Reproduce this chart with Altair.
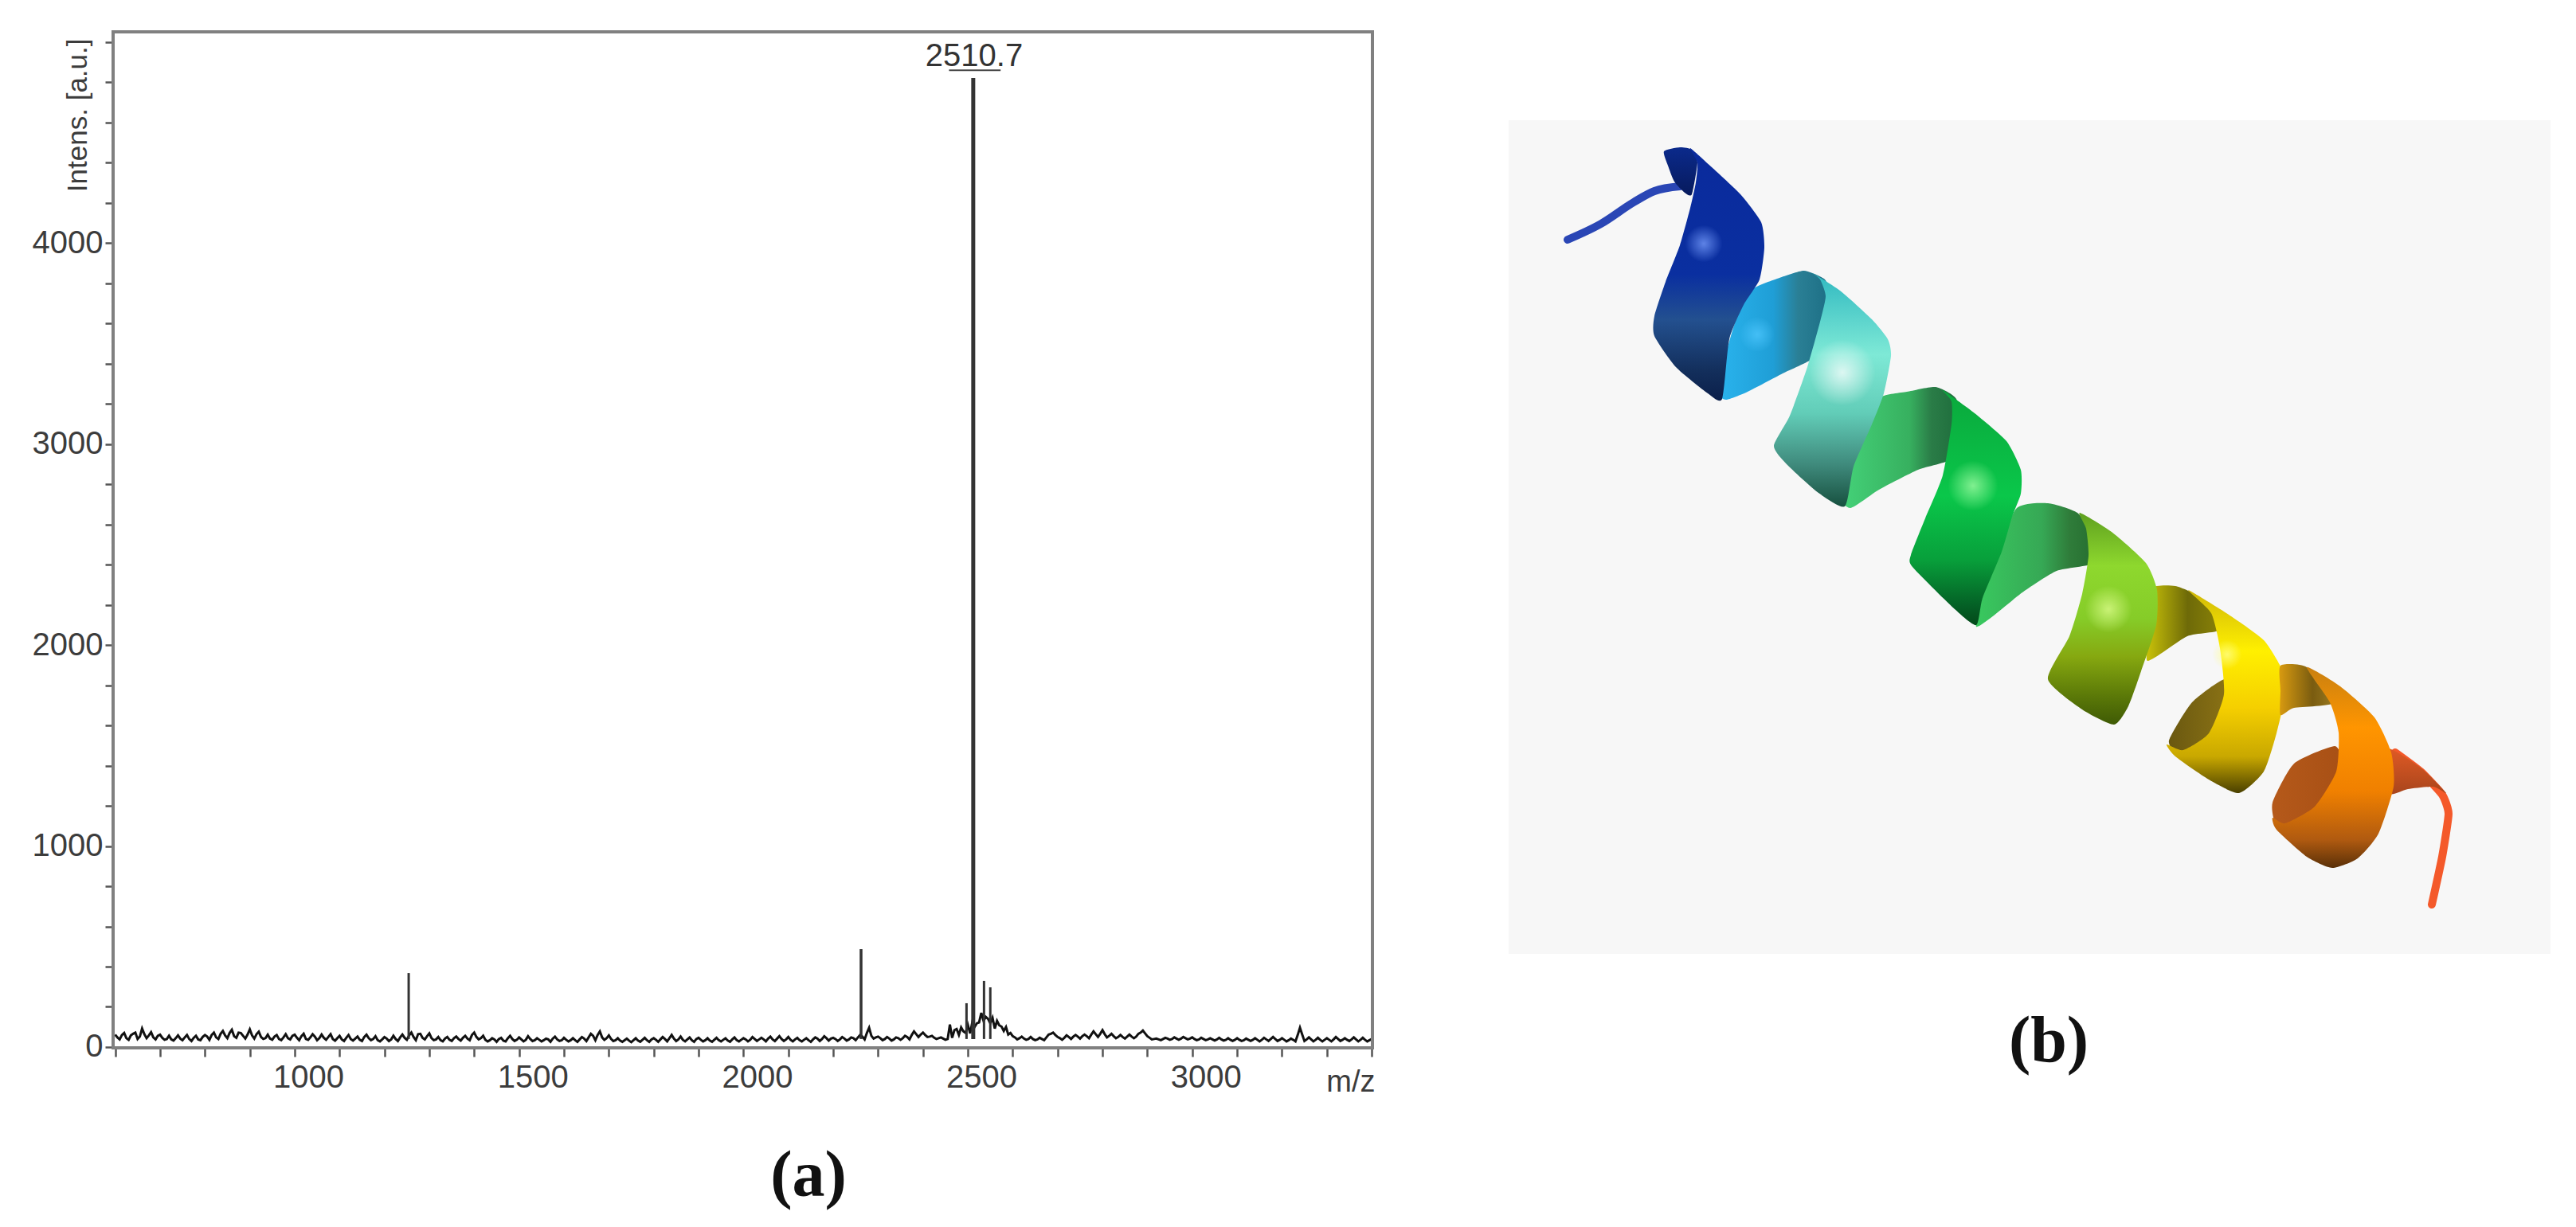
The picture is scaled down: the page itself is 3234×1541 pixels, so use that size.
import altair as alt
import pandas as pd

# ---------- spectrum values ----------
noise_a = [
    62,38,70,36,66,40,92,44,74,38,
    62,36,56,32,58,34,60,30,56,34,
    60,36,72,40,80,44,86,46,70,42,
    88,42,76,40,62,36,60,34,64,38,
    62,34,66,36,64,34,62,36,64,32,
    56,30,60,32,52,30,62,34,54,28,
    50,30,56,30,62,36,72,34,66,38,
    68,34,50,28,50,30,52,32,56,34,
    72,38,56,28,44,26,46,28,56,30,
    48,28,54,30,44,28,42,26,52,30,
    46,28,44,26,50,30,66,34,78,36,
    58,30,44,26,42,24,44,26,46,26,
    44,26,50,28,60,30,52,28,48,26,
    46,28,44,26,46,28,44,26,48,28,
    44,28,50,30,46,28,52,30,54,30,
    50,28,46,28,44,26,48,30,54,32,
    46,30,50,32,48,34,60,38,96,42,
    52,34,50,32,48,36,56,38,78,50,
    72,50,56,40,48,36,112,84,60,78,
    110,124,118,170,150,118,92,108,80,62,
    54,38,52,36,50,34,46,34,62,72,
    50,36,58,40,60,42,62,44,78,50,
    84,48,66,44,60,42,62,44,66,82,
    54,38,42,34,46,36,48,36,50,38,
    48,34,46,34,44,32,46,32,44,30,
    44,30,42,30,44,28,46,30,50,30,
    44,28,42,28,96,30,48,28,46,28,
    44,28,50,30,44,30,48,28,46,28,
    40,
]
noise_b = [
    48,60,44,58,72,52,64,58,48,56,
    46,40,38,44,42,48,40,46,38,50,
    52,60,48,66,58,70,54,72,56,62,
    58,64,50,44,42,52,40,48,44,56,
    46,54,40,48,52,44,46,50,40,44,
    38,46,40,42,36,50,44,40,34,38,
    42,38,40,48,46,58,50,64,46,54,
    44,38,34,42,36,44,40,46,42,60,
    50,44,36,34,38,40,32,44,40,36,
    38,36,40,34,36,34,38,42,38,34,
    36,34,34,38,42,48,56,60,48,44,
    40,34,32,34,32,34,32,36,34,38,
    36,38,40,44,42,38,36,38,34,40,
    36,34,32,36,34,36,32,38,34,36,
    38,36,40,38,38,42,38,42,40,38,
    36,38,34,36,34,38,42,40,44,42,
    40,38,42,38,44,48,52,70,56,48,
    44,40,42,38,44,44,50,60,64,62,
    60,52,46,44,42,40,46,90,98,70,
    68,100,122,130,140,145,130,102,100,70,
    48,44,42,40,40,38,40,48,66,60,
    44,46,50,52,52,54,54,62,64,66,
    64,56,54,50,50,52,52,52,72,68,
    46,40,38,40,42,40,42,42,44,42,
    40,38,40,38,38,38,38,36,36,36,
    36,34,36,36,36,36,38,40,40,36,
    36,34,36,60,62,38,38,36,36,36,
    36,38,40,36,36,38,38,36,36,34,
]
noise_mz_start = 600
noise_mz_step = 5

peak_mz = [1254, 2262, 2497, 2512, 2536, 2550]
peak_int = [368, 487, 218, 4820, 329, 297]
peak_width = [3, 3.5, 3, 5, 3, 3]

y_ticks = [0,200,400,600,800,1000,1200,1400,1600,1800,2000,2200,2400,2600,2800,3000,3200,3400,3600,3800,4000,4200,4400,4600,4800,5000]
x_ticks = [600,700,800,900,1000,1100,1200,1300,1400,1500,1600,1700,1800,1900,2000,2100,2200,2300,2400,2500,2600,2700,2800,2900,3000,3100,3200,3300,3400]

# ---------- ribbon outlines of panel (b) ----------
tail_blue = [(1967,301),(2009,281),(2050,254),(2076,240),(2108,234)]
tail_red = [(3006,945),(3038,969),(3065,998),(3073,1022),(3065,1076),(3052,1136)]

blue_inner = [(2088,190),(2108,185),(2123,188),(2130,204),(2123,244),(2114,242),(2101,228),(2093,208)]
blue_front = [(2121,186),(2148,210),(2184,244),(2210,279),(2214,311),(2208,351),(2188,383),(2170,426),(2161,501),(2143,494),(2103,461),(2076,422),(2076,397),(2090,354),(2108,308),(2121,261),(2128,229),(2130,204)]
cyan_back = [(2200,363),(2233,349),(2264,340),(2290,351),(2296,372),(2288,422),(2275,450),(2237,469),(2193,492),(2166,502),(2155,492),(2165,447),(2180,397)]
teal_front = [(2273,342),(2309,365),(2349,401),(2369,426),(2373,447),(2364,494),(2349,533),(2326,586),(2315,636),(2282,619),(2242,583),(2226,560),(2246,522),(2268,461),(2284,404),(2291,372),(2284,351)]
green_back = [(2360,499),(2393,492),(2429,486),(2455,501),(2457,540),(2450,576),(2407,590),(2358,615),(2322,638),(2305,619),(2325,572),(2340,533)]
green_front = [(2438,490),(2478,519),(2518,554),(2536,590),(2536,620),(2525,649),(2512,693),(2488,751),(2480,785),(2453,765),(2400,712),(2398,697),(2416,651),(2438,597),(2449,533),(2449,504)]
green2_back = [(2530,639),(2570,632),(2607,644),(2628,673),(2628,707),(2581,717),(2538,744),(2480,787),(2500,712)]
lime_front = [(2610,644),(2650,668),(2693,707),(2707,741),(2706,785),(2687,843),(2671,887),(2653,910),(2613,891),(2570,853),(2597,799),(2613,746),(2621,698),(2618,664)]
yellow_back = [(2700,739),(2730,736),(2762,751),(2788,790),(2745,799),(2695,830),(2700,785)]
yellow_inner = [(2792,853),(2751,882),(2722,930),(2735,948),(2772,935),(2795,885)]
yellow_front = [(2746,741),(2794,770),(2841,804),(2865,843),(2868,872),(2857,921),(2841,969),(2810,996),(2772,979),(2730,950),(2719,935),(2740,942),(2772,921),(2791,872),(2786,814),(2775,770)]
orange_back = [(2862,836),(2895,838),(2930,882),(2879,889),(2862,898),(2862,867)]
red_back = [(2995,940),(3038,964),(3070,996),(3054,988),(3022,991),(2998,996)]
orange_inner = [(2930,937),(2879,959),(2852,1008),(2857,1036),(2885,1036),(2920,1003),(2938,959)]
orange_front = [(2895,838),(2937,862),(2980,901),(3001,945),(3004,988),(2985,1047),(2959,1078),(2927,1090),(2895,1076),(2857,1042),(2852,1027),(2868,1034),(2905,1013),(2932,969),(2935,920),(2924,882)]

V = "v"; H = "h"
shapes = [
    (blue_inner, V, [("#0b2a8c",0),("#071a5c",1)]),
    (cyan_back, H, [("#2ab4ee",0),("#1f9ed6",.5),("#2a7f95",.72),("#1d6f85",1)]),
    (blue_front, V, [("#0a2a9c",0),("#0a2fa0",.5),("#23508f",.68),("#132f5c",.88),("#0b1f4a",1)]),
    (green_back, H, [("#45d47a",0),("#37b05f",.6),("#2a7c47",.78),("#1f6d3c",1)]),
    (teal_front, V, [("#2fb8c0",0),("#7ee9d6",.35),("#62cdb8",.6),("#3f8a7c",.82),("#17503f",1)]),
    (green2_back, H, [("#39c95f",0),("#36a855",.55),("#2f7c3a",.78),("#256d2f",1)]),
    (green_front, V, [("#0aa83c",0),("#0ac74a",.45),("#08a03b",.72),("#045f25",.92),("#04491a",1)]),
    (yellow_back, H, [("#c9c208",0),("#6e6a08",.55),("#8a8208",1)]),
    (lime_front, V, [("#5fa01f",0),("#8ed82e",.25),("#86cc28",.5),("#86a810",.68),("#5c7a08",.86),("#3f5a05",1)]),
    (yellow_inner, H, [("#6a5810",0),("#8a7215",1)]),
    (yellow_front, V, [("#d0b808",0),("#fff000",.3),("#f5cf00",.58),("#c9a800",.82),("#4a4000",1)]),
    (orange_back, H, [("#d89a10",0),("#7a5c10",.6),("#9a7a20",1)]),
    (red_back, V, [("#e05a25",0),("#a8451c",1)]),
    (orange_inner, H, [("#b5591a",0),("#a85015",1)]),
    (orange_front, V, [("#c98010",0),("#ff9500",.3),("#f08000",.62),("#b05a10",.86),("#5a3008",1)]),
]
highlights_x = [2138, 2205, 2312, 2476, 2646, 2795]
highlights_y = [306, 420, 468, 610, 765, 822]
highlights_c = ["#7aa0ff", "#4fc8ff", "#ffffff", "#a8ffa8", "#e0ff90", "#ffff90"]
highlights_s = [2200, 2000, 7000, 4000, 3500, 1400]

FONT = "Liberation Sans"
SERIF = "Liberation Serif"
TICK = "#555555"
TXT = "#3c3c3c"
W, H_A = 1581, 1276

xs = alt.Scale(domain=[595.4, 3401.5], nice=False, zero=False)
ys = alt.Scale(domain=[-4, 5050], nice=False, zero=False)

noise_vals = []
for a, b in zip(noise_a, noise_b):
    noise_vals += [a, b]
noise_vals.append(noise_a[-1])
noise_df = pd.DataFrame({
    "mz": [noise_mz_start + noise_mz_step * i for i in range(len(noise_vals))],
    "intensity": noise_vals,
})
peak_df = pd.DataFrame({"mz": peak_mz, "intensity": peak_int, "base": [40] * len(peak_mz), "w": peak_width})

axis_x = alt.Axis(values=x_ticks, title="m/z", titleFont=FONT, titleFontSize=38, titleFontWeight="normal",
                  titleColor=TXT, titleX=1584, titleY=54, titleAlign="right", titleBaseline="alphabetic",
                  grid=False, domain=False, tickSize=11, tickWidth=2.5, tickColor=TICK,
                  labelFont=FONT, labelFontSize=40, labelColor=TXT, labelPadding=6, labelOffset=17,
                  labelFlush=False, labelOverlap=False, labelBound=False,
                  labelExpr="datum.value % 500 === 0 ? datum.value : ''")
axis_y = alt.Axis(values=y_ticks, title="Intens. [a.u.]", titleFont=FONT, titleFontSize=35, titleFontWeight="normal",
                  titleColor=TXT, titleX=-34, titleY=8, titleAlign="right", titleBaseline="alphabetic", titleAngle=270,
                  grid=False, domain=False, tickSize=10, tickWidth=2.5, tickColor=TICK,
                  labelFont=FONT, labelFontSize=40, labelColor=TXT, labelPadding=3,
                  labelOverlap=False, labelBound=False,
                  labelExpr="datum.value % 1000 === 0 && datum.value < 5000 ? datum.value : ''")

line = alt.Chart(noise_df).mark_line(color="#111111", strokeWidth=3).encode(
    x=alt.X("mz:Q", scale=xs, axis=axis_x),
    y=alt.Y("intensity:Q", scale=ys, axis=axis_y),
)
sticks = alt.Chart(peak_df).mark_rule(color="#333333").encode(
    x=alt.X("mz:Q", scale=xs),
    y=alt.Y("intensity:Q", scale=ys),
    y2="base:Q",
    strokeWidth=alt.StrokeWidth("w:Q", scale=None, legend=None),
)
label_df = pd.DataFrame({"mz": [2514], "intensity": [4879], "label": ["2510.7"]})
peak_label = alt.Chart(label_df).mark_text(font=FONT, fontSize=40, color="#333333", baseline="alphabetic").encode(
    x=alt.X("mz:Q", scale=xs), y=alt.Y("intensity:Q", scale=ys), text="label:N")
under_df = pd.DataFrame({"a": [2458], "b": [2573], "y": [4859]})
underline = alt.Chart(under_df).mark_rule(color="#444444", strokeWidth=2).encode(
    x=alt.X("a:Q", scale=xs), x2="b:Q", y=alt.Y("y:Q", scale=ys))
frame = alt.Chart(pd.DataFrame({"k": [0]})).mark_rect(fill="transparent", stroke="#808080", strokeWidth=4).encode(
    x=alt.value(0), x2=alt.value(W), y=alt.value(0), y2=alt.value(H_A))
a_text = alt.Chart(pd.DataFrame({"t": ["(a)"]})).mark_text(font=SERIF, fontWeight="bold", fontSize=82, color="#111111",
                                                           baseline="alphabetic").encode(
    x=alt.value(873), y=alt.value(1462), text="t:N")

panel_a = alt.layer(line, sticks, frame, peak_label, underline, a_text).properties(width=W, height=H_A)

# ---------- panel (b) ----------
bx = alt.Scale(domain=[1893, 3201], nice=False, zero=False)
by = alt.Scale(domain=[40, 1316], nice=False, zero=False, reverse=True)

def xy():
    return dict(x=alt.X("x:Q", scale=bx, axis=None), y=alt.Y("y:Q", scale=by, axis=None))

def pts(lst):
    return pd.DataFrame({"x": [p[0] for p in lst], "y": [p[1] for p in lst], "i": list(range(len(lst)))})

def linear(stops, d):
    return alt.LinearGradient(
        gradient="linear",
        stops=[alt.GradientStop(color=c, offset=o) for c, o in stops],
        x1=0, y1=0, x2=(1 if d == "h" else 0), y2=(0 if d == "h" else 1))

bg_df = pd.DataFrame({"x": [1893], "x2": [3201], "y": [151], "y2": [1198]})
layers = [alt.Chart(bg_df).mark_rect(color="#f7f7f7").encode(
    x=alt.X("x:Q", scale=bx, axis=None), x2="x2:Q", y=alt.Y("y:Q", scale=by, axis=None), y2="y2:Q")]

layers.append(alt.Chart(pts(tail_blue)).mark_line(color="#2a46b5", strokeWidth=10, strokeCap="round", interpolate="monotone").encode(
    order="i:Q", **xy()))
for poly, d, stops in shapes:
    layers.append(alt.Chart(pts(poly)).mark_line(
        fill=linear(stops, d), stroke="transparent", interpolate="cardinal-closed", tension=0.4
    ).encode(order="i:Q", **xy()))
layers.insert(-3, alt.Chart(pts(tail_red)).mark_line(color="#f4592a", strokeWidth=10, strokeCap="round", interpolate="cardinal", tension=0.5).encode(
    order="i:Q", **xy()))
for hx, hy, hc, hs in zip(highlights_x, highlights_y, highlights_c, highlights_s):
    grad = alt.RadialGradient(
        gradient="radial", x1=.5, y1=.5, x2=.5, y2=.5, r1=0, r2=.5,
        stops=[alt.GradientStop(color=hc, offset=0), alt.GradientStop(color=hc + "00", offset=1)])
    layers.append(alt.Chart(pd.DataFrame({"x": [hx], "y": [hy]})).mark_point(
        filled=True, fill=grad, opacity=0.75, size=hs, stroke="transparent").encode(**xy()))
layers.append(alt.Chart(pd.DataFrame({"x": [2571], "y": [1333], "t": ["(b)"]})).mark_text(
    font=SERIF, fontWeight="bold", fontSize=82, color="#111111", baseline="alphabetic").encode(text="t:N", **xy()))

panel_b = alt.layer(*layers).properties(width=1308, height=H_A)

chart = alt.hconcat(panel_a, panel_b, spacing=154, padding={"left": 32, "top": 24, "right": 0, "bottom": 30}
                    ).configure_view(stroke=None).properties(background="white")

chart.save("out.html", embed_options={"renderer": "svg", "actions": False})
